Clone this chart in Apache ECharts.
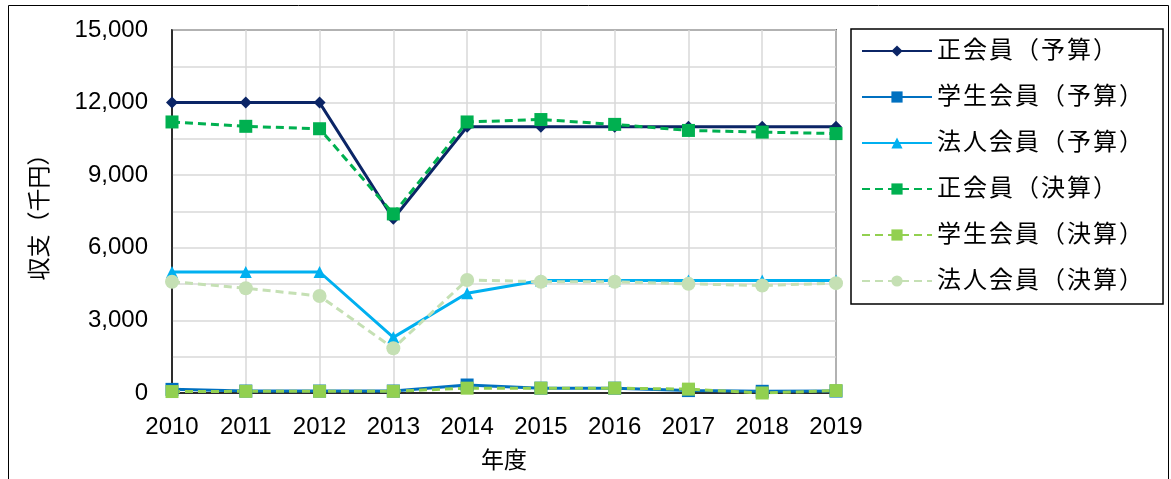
<!DOCTYPE html>
<html>
<head>
<meta charset="utf-8">
<script src="https://cdn.jsdelivr.net/npm/echarts@6/dist/echarts.min.js"></script>
<style>
  html, body { margin: 0; padding: 0; background: #fff; }
  #main { width: 1171px; height: 479px; }
</style>
</head>
<body>
<div id="main"></div>
<script>
// 年度
var years = ['2010', '2011', '2012', '2013', '2014', '2015', '2016', '2017', '2018', '2019'];

// 収支（千円）
var seiBudget = [12000, 12000, 12000, 7200, 11000, 11000, 11000, 11000, 11000, 11000];
var gakuBudget = [150, 80, 80, 80, 330, 200, 200, 100, 70, 80];
var hojinBudget = [5000, 5000, 5000, 2300, 4120, 4650, 4650, 4650, 4650, 4650];
var seiResult = [11200, 11020, 10920, 7400, 11200, 11300, 11100, 10850, 10780, 10720];
var gakuResult = [60, 70, 70, 70, 200, 200, 200, 160, 0, 100];
var hojinResult = [4600, 4330, 4010, 1850, 4670, 4600, 4600, 4510, 4440, 4540];

var names = ['正会員（予算）', '学生会員（予算）', '法人会員（予算）', '正会員（決算）', '学生会員（決算）', '法人会員（決算）'];
var font = 'Liberation Sans, Arial, Noto Sans CJK JP, sans-serif';

function makeLine(name, data, color, symbol, size, dashed) {
  return {
    name: name,
    type: 'line',
    data: data,
    symbol: symbol,
    symbolSize: size,
    lineStyle: { color: color, width: 3, type: dashed ? [8, 5] : 'solid' },
    itemStyle: { color: color },
    emphasis: { disabled: true }
  };
}

var chart = echarts.init(document.getElementById('main'));
chart.setOption({
  animation: false,
  textStyle: { fontFamily: font },
  graphic: [{
    type: 'rect',
    shape: { x: 8.5, y: 5.5, width: 1160, height: 520 },
    style: { fill: 'none', stroke: '#000', lineWidth: 1 },
    silent: true
  }],
  grid: {
    left: 172, right: 335, top: 30, bottom: 86,
    show: true, borderColor: '#000', borderWidth: 1.5
  },
  legend: {
    orient: 'vertical',
    left: 851, top: 29,
    width: 308,
    padding: [10, 20, 11, 10],
    borderColor: '#000', borderWidth: 1.5,
    itemWidth: 70, itemHeight: 14, itemGap: 22,
    textStyle: { fontSize: 24, color: '#000', fontFamily: font },
    // 文字間を少し広げる
    formatter: function (n) { return n.split('').join('\u200A'); },
    data: names
  },
  xAxis: {
    type: 'category',
    data: years,
    boundaryGap: false,
    name: '年度',
    nameLocation: 'middle',
    nameGap: 57,
    nameTextStyle: { fontSize: 23, color: '#000' },
    axisLine: { lineStyle: { color: '#000', width: 1.5 } },
    axisTick: { show: false },
    axisLabel: { fontSize: 24, color: '#000', margin: 22 },
    splitLine: { show: true, lineStyle: { color: '#d9d9d9', width: 1.5 } }
  },
  yAxis: {
    type: 'value',
    min: 0, max: 15000, interval: 1500,
    name: '収支（千円）',
    nameLocation: 'middle',
    nameGap: 120,
    nameTextStyle: { fontSize: 23, color: '#000' },
    axisLine: { show: true, lineStyle: { color: '#000', width: 1.5 } },
    axisTick: { show: false },
    axisLabel: {
      fontSize: 24, color: '#000', margin: 24,
      formatter: function (v) { return v % 3000 === 0 ? v.toLocaleString('en-US') : ''; }
    },
    splitLine: { lineStyle: { color: '#d9d9d9', width: 1.5 } }
  },
  series: [
    makeLine(names[0], seiBudget, '#0b2566', 'diamond', 12, false),
    makeLine(names[1], gakuBudget, '#0070c0', 'rect', 13, false),
    makeLine(names[2], hojinBudget, '#00b0f0', 'triangle', 12, false),
    makeLine(names[3], seiResult, '#00b050', 'rect', 13, true),
    makeLine(names[4], gakuResult, '#92d050', 'rect', 13, true),
    makeLine(names[5], hojinResult, '#c5e0b4', 'circle', 14, true)
  ]
});
</script>
</body>
</html>
